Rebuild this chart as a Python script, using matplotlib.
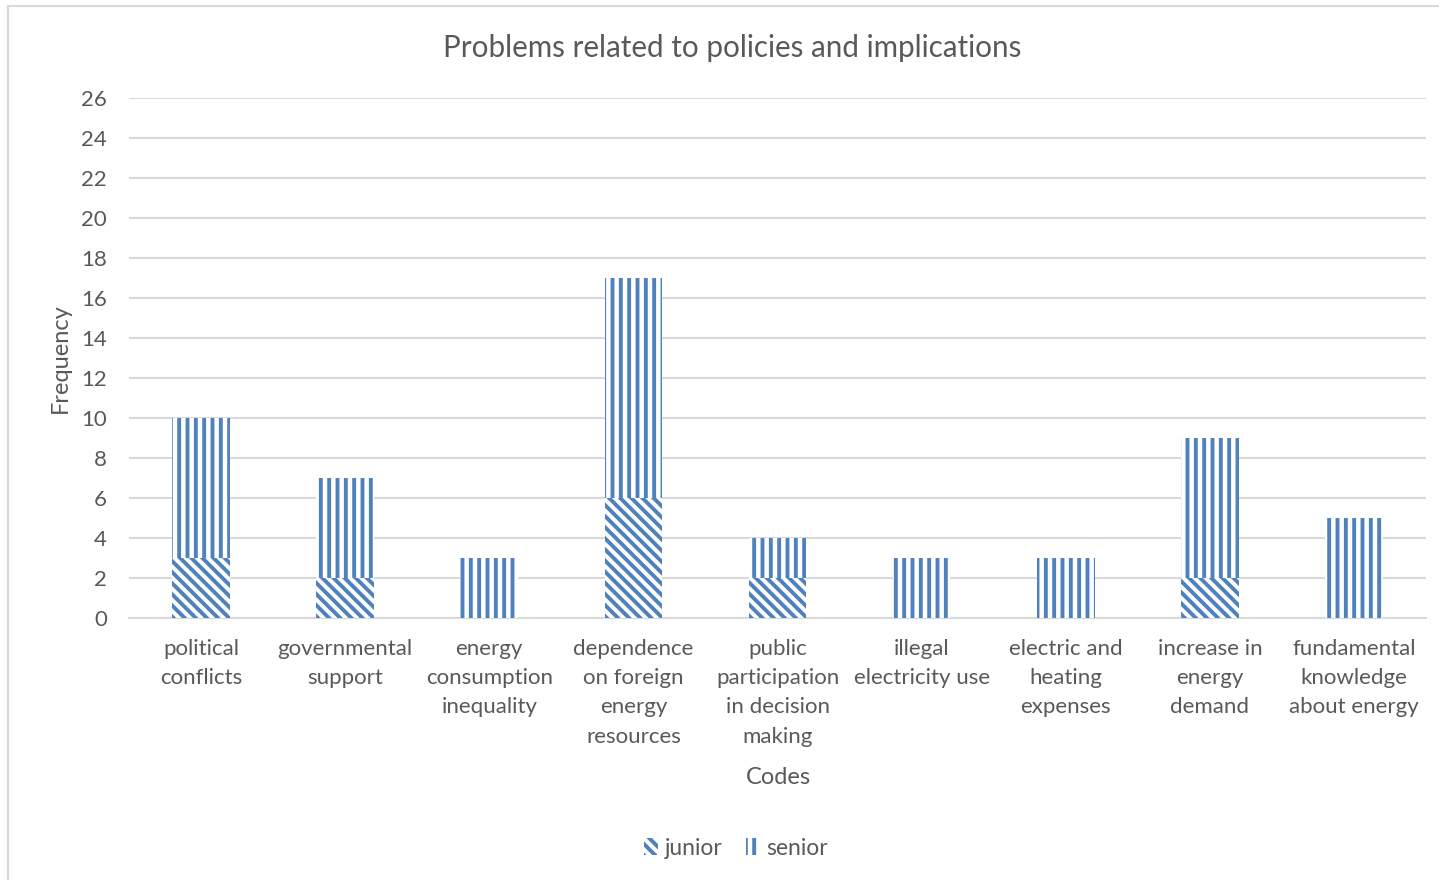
import matplotlib
matplotlib.use("Agg")
import matplotlib.pyplot as plt
from matplotlib.patches import Patch
from matplotlib.lines import Line2D
import numpy as np

categories = ["political\nconflicts", "governmental\nsupport", "energy\nconsumption\ninequality",
              "dependence\non foreign\nenergy\nresources", "public\nparticipation\nin decision\nmaking",
              "illegal\nelectricity use", "electric and\nheating\nexpenses", "increase in\nenergy\ndemand",
              "fundamental\nknowledge\nabout energy"]
junior = [3, 2, 0, 6, 2, 0, 0, 2, 0]
senior = [7, 5, 3, 11, 2, 3, 3, 7, 5]
yticks = list(range(0, 27, 2))

BLUE = "#4F81BD"
TXT = "#595959"
GRID = "#D9D9D9"

plt.rcParams['font.family'] = ['Lato', 'DejaVu Sans']
plt.rcParams['hatch.linewidth'] = 2.8

fig = plt.figure(figsize=(14.39, 8.8), dpi=100)
ax = fig.add_axes([129/1439, 1-618/880, (1426-129)/1439, (618-98)/880])

x = np.arange(len(categories))
w = 0.4
JH = "\\\\\\"
SH = "||"
ax.bar(x, junior, width=w, color="white", edgecolor=BLUE, hatch=JH, linewidth=0, zorder=3)
ax.bar(x, senior, width=w, bottom=junior, color="white", edgecolor=BLUE, hatch=SH, linewidth=0, zorder=3)

ax.set_xlim(-0.5, len(categories) - 0.5)
ax.set_ylim(0, 26)
ax.set_yticks(yticks)
ax.set_yticklabels([str(t) for t in yticks])
ax.set_xticks(x)
ax.set_xticklabels(categories, linespacing=1.58)
ax.tick_params(axis='both', length=0, labelsize=16, colors=TXT)
ax.tick_params(axis='x', pad=15)
ax.tick_params(axis='y', pad=16)
ax.grid(axis='y', color=GRID, linewidth=1.5, zorder=0)
for s in ['top', 'right', 'left']:
    ax.spines[s].set_visible(False)
ax.spines['bottom'].set_color(GRID)
ax.spines['bottom'].set_linewidth(1.5)

fig.text(732/1439, 1-48/880, "Problems related to policies and implications", ha='center', va='center',
         fontsize=21.3, color=TXT)
fig.text(60/1439, 1-358/880, "Frequency", rotation=90, ha='center', va='center', fontsize=17, color=TXT)
fig.text(778/1439, 1-777/880, "Codes", ha='center', va='center', fontsize=17, color=TXT)

handles = [Patch(facecolor="white", edgecolor=BLUE, hatch=JH, linewidth=0),
           Patch(facecolor="white", edgecolor=BLUE, hatch=SH, linewidth=0)]
leg = fig.legend(handles, ["junior", "senior"], loc='center', bbox_to_anchor=(736/1439, 1-848/880),
                 ncol=2, frameon=False, fontsize=16.5, handlelength=0.6, handleheight=0.7,
                 handletextpad=0.3, columnspacing=1.0)
for t in leg.get_texts():
    t.set_color(TXT)

fig.add_artist(Line2D([8/1439, 8/1439], [0, 1-6/880], transform=fig.transFigure, color=GRID, linewidth=1.5))
fig.add_artist(Line2D([8/1439, 1], [1-6/880, 1-6/880], transform=fig.transFigure, color=GRID, linewidth=1.5))

fig.savefig("out.png", dpi=100)
